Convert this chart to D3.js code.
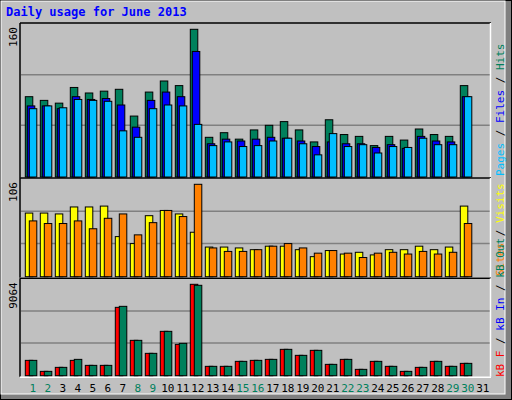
<!DOCTYPE html>
<html><head><meta charset="utf-8">
<script src="https://cdn.jsdelivr.net/npm/d3@7"></script>
<style>body{margin:0;background:#fff}</style></head>
<body><svg id="c" width="512" height="400"></svg>
<script>
const days = d3.range(1, 32);
const weekend = [1,2,8,9,15,16,22,23,29,30];
const hits  = [87,83,80,97,91,93,95,66,92,104,99,160,43,48,41,51,56,60,51,38,62,46,44,34,44,40,52,46,44,99];
const files = [77,77,74,87,84,85,78,54,83,92,87,136,36,41,39,41,43,42,39,33,38,36,36,32,35,31,44,39,38,87];
const pages = [74,77,75,84,83,82,50,43,74,78,77,57,34,38,33,34,39,42,36,24,47,33,35,26,33,32,42,35,35,87];
const visits= [73,73,72,80,80,81,46,38,70,76,72,51,34,34,33,31,35,35,31,23,30,26,28,25,31,31,35,31,34,81];
const sites = [64,61,61,64,55,67,72,48,62,76,69,106,33,29,29,31,35,38,33,27,30,27,22,27,28,26,29,26,28,61];
const kbF   = [1521,430,827,1521,1025,1025,6779,3506,2216,4398,3109,9064,928,928,1422,1521,1620,2613,2018,2514,1124,1620,629,1422,928,430,827,1422,928,1223];
const kbOut = [1521,430,827,1620,1025,1025,6878,3506,2216,4398,3208,8965,928,928,1422,1521,1620,2613,2018,2514,1124,1620,629,1422,928,430,827,1422,928,1223];
const maxLabels = ["160","106","9064"];

const svg = d3.select("#c");
const F = "DejaVu Sans Mono, monospace";
svg.append("rect").attr("x",0).attr("y",0).attr("width",512).attr("height",400).attr("fill","#C0C0C0");
svg.append("rect").attr("x",0.5).attr("y",0.5).attr("width",511).attr("height",399).attr("fill","none").attr("stroke","#000");
svg.append("rect").attr("x",505).attr("y",1).attr("width",6).attr("height",398).attr("fill","#808080");
svg.append("rect").attr("x",1).attr("y",394).attr("width",510).attr("height",5).attr("fill","#808080");
svg.append("rect").attr("x",1).attr("y",1).attr("width",504).attr("height",393).attr("fill","none").attr("stroke","#fff");

svg.append("text").attr("x",6).attr("y",16).attr("font-family",F).attr("font-size",12).attr("font-weight","bold")
  .attr("fill","#0000FF").text("Daily usage for June 2013");

const x = d3.scaleLinear().domain([1,32]).range([25.3, 25.3+31*15]);

const panels = [
  {top:25, base:177, maxY:29.3, max:160, series:[[hits,"#00805C",0],[files,"#0000FF",2],[pages,"#00BFFF",4]]},
  {top:180, base:276.7, maxY:184.3, max:106, series:[[visits,"#FFFF00",0],[sites,"#FF8000",4]]},
  {top:280.3, base:375.7, maxY:284.3, max:9064, series:[[kbF,"#FF0000",0],[kbOut,"#00805C",4]]}
];
panels.forEach((p,pi)=>{
  const y = d3.scaleLinear().domain([0,p.max]).range([p.base,p.maxY]);
  const g = svg.append("g");
  g.append("rect").attr("x",20).attr("y",p.top-2).attr("width",471).attr("height",p.base-p.top+3).attr("fill","#C0C0C0");
  const h = p.base - p.top;
  [1,2].forEach(k=>{
    const gy = p.base - h*k/3 - 1;
    g.append("line").attr("x1",21).attr("x2",490).attr("y1",gy).attr("y2",gy).attr("stroke","#808080").attr("stroke-width",1.5);
  });
  g.append("line").attr("x1",20).attr("x2",491).attr("y1",p.top-2).attr("y2",p.top-2).attr("stroke","#000").attr("stroke-width",1.5);
  g.append("line").attr("x1",20).attr("x2",20).attr("y1",p.top-2).attr("y2",p.base+1).attr("stroke","#000").attr("stroke-width",1.5);
  g.append("line").attr("x1",490.5).attr("x2",490.5).attr("y1",p.top-2).attr("y2",p.base+1).attr("stroke","#fff").attr("stroke-width",1.5);
  g.append("line").attr("x1",20).attr("x2",491).attr("y1",p.base+1.5).attr("y2",p.base+1.5).attr("stroke","#fff").attr("stroke-width",1.5);
  p.series.forEach(([vals,col,off])=>{
    g.selectAll(null).data(vals).enter().append("rect")
      .attr("x",(d,i)=>x(i+1)+off).attr("width",7.5)
      .attr("y",d=>y(d)).attr("height",d=>p.base-y(d))
      .attr("fill",col).attr("stroke","#000").attr("stroke-width",1);
  });
  svg.append("text").attr("transform",`translate(17,${p.top+2}) rotate(-90)`).attr("text-anchor","end")
    .attr("font-family",F).attr("font-size",11).attr("fill","#000").text(maxLabels[pi]);
});

function sideLabel(yBottom, parts){
  const t = svg.append("text").attr("transform",`translate(504,${yBottom}) rotate(-90)`)
    .attr("font-family",F).attr("font-size",11);
  parts.forEach(([s,c])=>t.append("tspan").attr("fill",c).text(s));
}
sideLabel(176,[["Pages","#00BFFF"],[" / ","#000"],["Files","#0000FF"],[" / ","#000"],["Hits","#00805C"]]);
sideLabel(276,[["Sites","#FF8000"],[" / ","#000"],["Visits","#FFFF00"]]);
sideLabel(377,[["kB F","#FF0000"],[" / ","#000"],["kB In","#0000FF"],[" / ","#000"],["kB Out","#00805C"]]);

svg.selectAll(".d").data(days).enter().append("text")
  .attr("x",d=>x(d)+7.5).attr("y",392).attr("text-anchor","middle")
  .attr("font-family",F).attr("font-size",11)
  .attr("fill",d=>weekend.includes(d)?"#00805C":"#000").text(d=>d);
</script></body></html>
